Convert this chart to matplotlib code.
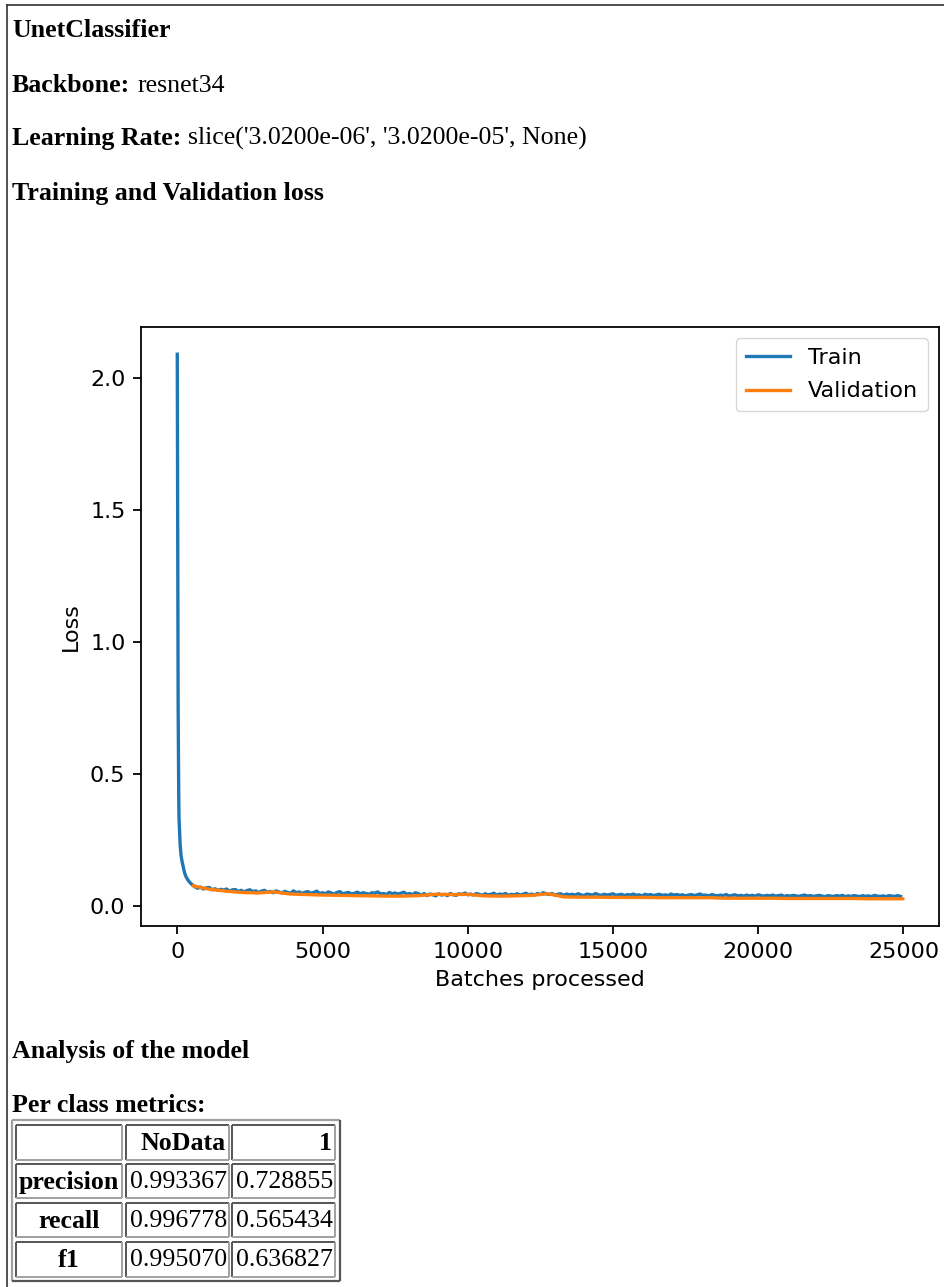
import numpy as np
import matplotlib
matplotlib.use("Agg")
import matplotlib.pyplot as plt

# ---- report text ----
model_name = "UnetClassifier"
backbone = "resnet34"
learning_rate = "slice('3.0200e-06', '3.0200e-05', None)"

# ---- loss curves ----
# first few hundred batches, read by hand
head_batches = [0, 10, 20, 30, 40, 50, 60, 80, 100, 130, 160, 200, 250, 300, 350, 400, 450, 500]
head_loss = [2.09, 1.60, 1.10, 0.75, 0.55, 0.42, 0.33, 0.28, 0.23, 0.19, 0.17, 0.15, 0.125,
             0.11, 0.10, 0.092, 0.086, 0.081]

# after that, one reading every 100 batches from 600 on
train_start = 600
train_step = 100
train_loss = [
    0.072, 0.066, 0.070, 0.063, 0.067, 0.069, 0.060, 0.064, 0.058, 0.062,
    0.059, 0.063, 0.055, 0.060, 0.061, 0.054, 0.058, 0.052, 0.057, 0.060,
    0.053, 0.056, 0.050, 0.055, 0.058, 0.051, 0.054, 0.049, 0.056, 0.052,
    0.048, 0.054, 0.050, 0.047, 0.056, 0.049, 0.052, 0.046, 0.051, 0.053,
    0.047, 0.050, 0.055, 0.046, 0.049, 0.045, 0.052, 0.048, 0.044, 0.050,
    0.053, 0.045, 0.048, 0.050, 0.044, 0.047, 0.051, 0.045, 0.049, 0.046,
    0.043, 0.049, 0.047, 0.052, 0.044, 0.046, 0.042, 0.050, 0.045, 0.048,
    0.044, 0.047, 0.051, 0.043, 0.046, 0.042, 0.049, 0.045, 0.040, 0.046,
    0.038, 0.044, 0.041, 0.037, 0.045, 0.040, 0.043, 0.038, 0.046, 0.041,
    0.039, 0.045, 0.042, 0.048, 0.041, 0.044, 0.040, 0.046, 0.043, 0.039,
    0.045, 0.041, 0.043, 0.047, 0.040, 0.044, 0.042, 0.046, 0.039, 0.043,
    0.041, 0.045, 0.040, 0.043, 0.047, 0.041, 0.044, 0.040, 0.046, 0.042,
    0.049, 0.045, 0.042, 0.046, 0.040, 0.043, 0.045, 0.039, 0.044, 0.041,
    0.043, 0.040, 0.045, 0.041, 0.038, 0.044, 0.042, 0.040, 0.046, 0.041,
    0.039, 0.043, 0.040, 0.042, 0.045, 0.039, 0.041, 0.043, 0.038, 0.042,
    0.040, 0.044, 0.039, 0.041, 0.037, 0.043, 0.040, 0.042, 0.038, 0.041,
    0.043, 0.039, 0.041, 0.038, 0.044, 0.040, 0.042, 0.039, 0.041, 0.037,
    0.040, 0.042, 0.038, 0.041, 0.044, 0.039, 0.040, 0.037, 0.042, 0.039,
    0.037, 0.040, 0.038, 0.042, 0.036, 0.039, 0.041, 0.037, 0.039, 0.036,
    0.040, 0.037, 0.039, 0.036, 0.041, 0.038, 0.036, 0.039, 0.037, 0.040,
    0.036, 0.038, 0.040, 0.035, 0.038, 0.036, 0.039, 0.037, 0.035, 0.038,
    0.040, 0.036, 0.038, 0.035, 0.037, 0.039, 0.036, 0.034, 0.038, 0.036,
    0.035, 0.038, 0.036, 0.039, 0.034, 0.037, 0.035, 0.038, 0.036, 0.034,
    0.038, 0.035, 0.037, 0.034, 0.039, 0.036, 0.035, 0.037, 0.034, 0.038,
    0.036, 0.035, 0.038, 0.035,
]

# validation: one value per epoch
batches_per_epoch = 555
val_loss = [
    0.075, 0.062, 0.055, 0.050, 0.048, 0.052, 0.044, 0.042, 0.040, 0.039,
    0.038, 0.037, 0.036, 0.036, 0.038, 0.043, 0.042, 0.043, 0.037, 0.036,
    0.037, 0.039, 0.045, 0.033, 0.032, 0.032, 0.031, 0.031, 0.031, 0.030,
    0.030, 0.030, 0.030, 0.028, 0.028, 0.028, 0.028, 0.027, 0.027, 0.027,
    0.027, 0.027, 0.026, 0.026, 0.026,
]

# ---- per class metrics table ----
class_names = ["NoData", "1"]
metric_names = ["precision", "recall", "f1"]
metric_values = [
    ["0.993367", "0.728855"],
    ["0.996778", "0.565434"],
    ["0.995070", "0.636827"],
]

W, H = 944, 1287
fig = plt.figure(figsize=(W / 100, H / 100), dpi=100)
fig.patch.set_facecolor("white")

# background axis in pixel units for the html-ish parts
bg = fig.add_axes([0, 0, 1, 1])
bg.set_xlim(0, W)
bg.set_ylim(H, 0)
bg.axis("off")

# page frame
bg.plot([7, W], [5, 5], color="#333333", lw=1.2)
bg.plot([7, 7], [5, H], color="#333333", lw=1.2)

serif = "Liberation Serif"
fs_html = 18.6


def html_line(y, bold_part, rest=""):
    t = bg.text(12, y, bold_part, fontsize=fs_html, family=serif, fontweight="bold",
                va="baseline", ha="left", color="black")
    if rest:
        fig.canvas.draw()
        bb = t.get_window_extent()
        x_end = bb.x1  # display px == data px for this axis
        bg.text(x_end + 7, y, rest, fontsize=fs_html, family=serif,
                va="baseline", ha="left", color="black")


html_line(37, model_name)
html_line(92, "Backbone:", backbone)
html_line(145, "Learning Rate:", learning_rate)
html_line(200, "Training and Validation loss")
html_line(1058, "Analysis of the model")
html_line(1112, "Per class metrics:")

# ---- the loss chart ----
ax = fig.add_axes([141 / W, 1 - 926 / H, 798 / W, 599 / H])
sc = 1.6
train_x = head_batches + [train_start + i * train_step for i in range(len(train_loss))]
train_y = head_loss + train_loss
val_x = [(i + 1) * batches_per_epoch for i in range(len(val_loss))]

ax.plot(train_x, train_y, color="#1f77b4", lw=1.5 * sc, label="Train")
ax.plot(val_x, val_loss, color="#ff7f0e", lw=1.5 * sc, label="Validation")
ax.set_xticks([0, 5000, 10000, 15000, 20000, 25000])
ax.set_yticks([0.0, 0.5, 1.0, 1.5, 2.0])
ax.tick_params(labelsize=10 * sc, length=3.5 * sc, width=0.8 * sc, pad=3.5 * sc)
for s in ax.spines.values():
    s.set_linewidth(0.8 * sc)
ax.set_xlabel("Batches processed", fontsize=10 * sc, labelpad=4 * sc)
ax.set_ylabel("Loss", fontsize=10 * sc, labelpad=4 * sc)
ax.legend(loc="upper right", fontsize=10 * sc, handlelength=2.0, borderpad=0.45,
          labelspacing=0.6)

# ---- table ----
col_edges = [(16, 122), (126, 229), (232, 335)]
row_edges = [(1125, 1160), (1164, 1198), (1203, 1237), (1242, 1277)]


def box(x0, y0, x1, y1, tl, br, lw=1.4):
    bg.plot([x0, x1], [y0, y0], color=tl, lw=lw, solid_capstyle="butt")
    bg.plot([x0, x0], [y0, y1], color=tl, lw=lw, solid_capstyle="butt")
    bg.plot([x0, x1], [y1, y1], color=br, lw=lw, solid_capstyle="butt")
    bg.plot([x1, x1], [y0, y1], color=br, lw=lw, solid_capstyle="butt")


box(12, 1120, 340, 1281, "#a0a0a0", "#555555", lw=1.6)
for (y0, y1) in row_edges:
    for (x0, x1) in col_edges:
        box(x0, y0, x1, y1, "#555555", "#a0a0a0")

# header
for j, name in enumerate(class_names):
    x0, x1 = col_edges[j + 1]
    y0, y1 = row_edges[0]
    bg.text(x1 - 3, (y0 + y1) / 2 + 1, name, fontsize=fs_html, family=serif,
            fontweight="bold", ha="right", va="center")
for i, mname in enumerate(metric_names):
    y0, y1 = row_edges[i + 1]
    x0, x1 = col_edges[0]
    bg.text((x0 + x1) / 2, (y0 + y1) / 2 + 1, mname, fontsize=fs_html, family=serif,
            fontweight="bold", ha="center", va="center")
    for j, v in enumerate(metric_values[i]):
        cx0, cx1 = col_edges[j + 1]
        bg.text(cx1 - 2, (y0 + y1) / 2 + 1, v, fontsize=fs_html, family=serif,
                ha="right", va="center")

fig.savefig("out.png", dpi=100, facecolor="white")
